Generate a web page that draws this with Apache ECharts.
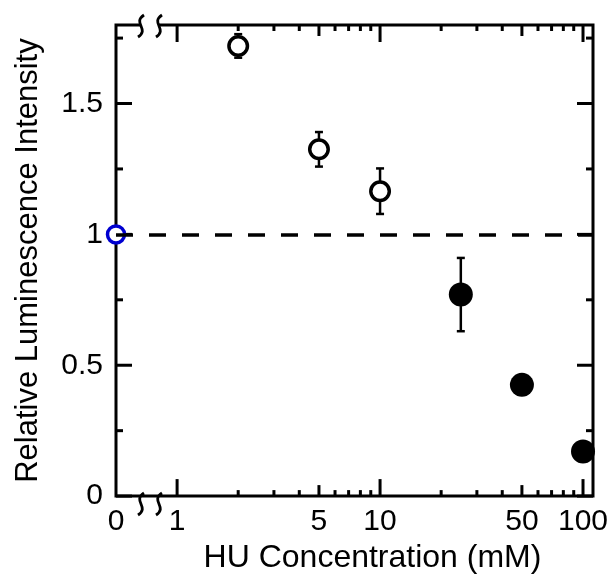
<!DOCTYPE html>
<html>
<head>
<meta charset="utf-8">
<script src="https://cdn.jsdelivr.net/npm/echarts@6/dist/echarts.min.js"></script>
<style>
html,body{margin:0;padding:0;background:#fff}
#chart{width:614px;height:579px}
</style>
</head>
<body>
<div id="chart"></div>
<script>
// data
var zeroX = [0];
var zeroY = [1];
var openX = [2, 5, 10];
var openY = [1.72, 1.325, 1.165];
var openErr = [0.045, 0.066, 0.087];
var filledX = [25, 50, 100];
var filledY = [0.77, 0.425, 0.17];
var filledErr = [0.14, 0, 0];

// axis ticks / labels
var xLabels = [1, 5, 10, 50, 100];
var xMajor = [1, 10, 100];
var xMid = [5, 50];
var xMinor = [2, 3, 4, 6, 7, 8, 9, 20, 30, 40, 60, 70, 80, 90];
var yMajor = [0, 0.5, 1, 1.5];
var yMinor = [0.25, 0.75, 1.25, 1.75];

var FONT = 'Liberation Sans, Arial, sans-serif';
var G = {left: 116, top: 25, right: 21, bottom: 76};

function pts(xs, ys) {
    return xs.map(function (x, i) { return [x, ys[i]]; });
}
function errs(xs, ys, es) {
    var out = [];
    xs.forEach(function (x, i) {
        if (es[i] > 0) out.push([x, ys[i] - es[i], ys[i] + es[i]]);
    });
    return out;
}

var xTickData = [];
xMajor.forEach(function (v) { xTickData.push([v, 17]); });
xMid.forEach(function (v) { xTickData.push([v, 11]); });
xMinor.forEach(function (v) { xTickData.push([v, 6]); });
var yTickData = [];
yMajor.forEach(function (v) { yTickData.push([v, 16]); });
yMinor.forEach(function (v) { yTickData.push([v, 7]); });

var lineStyle = {stroke: '#000', lineWidth: 3};

function xTickItem(params, api) {
    var cs = params.coordSys;
    var x = api.coord([api.value(0), 1])[0];
    var len = api.value(1);
    var b = cs.y + cs.height;
    return {type: 'group', children: [
        {type: 'line', shape: {x1: x, y1: b, x2: x, y2: b - len}, style: lineStyle},
        {type: 'line', shape: {x1: x, y1: cs.y, x2: x, y2: cs.y + len}, style: lineStyle}
    ]};
}
function yTickItem(params, api) {
    var cs = params.coordSys;
    var y = api.coord([1, api.value(0)])[1];
    var len = api.value(1);
    var r = cs.x + cs.width;
    return {type: 'group', children: [
        {type: 'line', shape: {x1: cs.x, y1: y, x2: cs.x + len, y2: y}, style: lineStyle},
        {type: 'line', shape: {x1: r, y1: y, x2: r - len, y2: y}, style: lineStyle}
    ]};
}
function errItem(params, api) {
    var lo = api.coord([api.value(0), api.value(1)]);
    var hi = api.coord([api.value(0), api.value(2)]);
    var w = 4;
    var st = {stroke: '#000', lineWidth: 2.5};
    return {type: 'group', children: [
        {type: 'line', shape: {x1: lo[0], y1: lo[1], x2: hi[0], y2: hi[1]}, style: st},
        {type: 'line', shape: {x1: lo[0] - w, y1: lo[1], x2: lo[0] + w, y2: lo[1]}, style: st},
        {type: 'line', shape: {x1: hi[0] - w, y1: hi[1], x2: hi[0] + w, y2: hi[1]}, style: st}
    ]};
}

// axis break marks
function squiggle(x, y) {
    return {type: 'bezierCurve', z: 101,
        shape: {x1: x + 3, y1: y - 11, cpx1: x - 9, cpy1: y - 3, cpx2: x + 9, cpy2: y + 3, x2: x - 3, y2: y + 11},
        style: {stroke: '#000', lineWidth: 2.8, fill: null}};
}
var yTop = G.top, yBot = 579 - G.bottom;
var bx1 = G.left + 25, bx2 = G.left + 43;
var breaks = [
    {type: 'rect', z: 100, shape: {x: bx1, y: yTop - 4, width: bx2 - bx1, height: 8}, style: {fill: '#fff'}},
    {type: 'rect', z: 100, shape: {x: bx1, y: yBot - 4, width: bx2 - bx1, height: 8}, style: {fill: '#fff'}},
    squiggle(bx1, yTop + 1), squiggle(bx2, yTop + 1),
    squiggle(bx1, yBot + 1), squiggle(bx2, yBot + 1)
];

var chart = echarts.init(document.getElementById('chart'));
var option = {
    animation: false,
    backgroundColor: '#fff',
    grid: {left: G.left, top: G.top, right: G.right, bottom: G.bottom,
        show: true, borderColor: '#000', borderWidth: 3, backgroundColor: 'transparent'},
    xAxis: [
        {
            type: 'log', min: 0.5, max: 112, position: 'bottom',
            axisLine: {show: false}, axisTick: {show: false}, splitLine: {show: false},
            axisLabel: {customValues: xLabels, fontSize: 30, color: '#000', fontFamily: FONT, margin: 11},
            name: 'HU Concentration (mM)', nameLocation: 'middle', nameGap: 41,
            nameTextStyle: {fontSize: 32, color: '#000', fontFamily: FONT, padding: [0, 0, 0, 36]}
        },
        {
            type: 'value', min: 0, max: 1, position: 'bottom',
            axisLine: {show: false}, axisTick: {show: false}, splitLine: {show: false},
            axisLabel: {customValues: [0], fontSize: 30, color: '#000', fontFamily: FONT, margin: 11}
        }
    ],
    yAxis: [
        {
            type: 'value', min: 0, max: 1.8, interval: 0.5,
            axisLine: {show: false}, axisTick: {show: false}, splitLine: {show: false},
            axisLabel: {fontSize: 30, color: '#000', fontFamily: FONT, margin: 13, showMaxLabel: false},
            name: 'Relative Luminescence Intensity', nameLocation: 'middle', nameGap: 72,
            nameTextStyle: {fontSize: 31, color: '#000', fontFamily: FONT}
        }
    ],
    graphic: breaks,
    series: [
        {type: 'custom', name: 'xticks', xAxisIndex: 0, yAxisIndex: 0, renderItem: xTickItem,
            data: xTickData, silent: true, clip: false, z: 1},
        {type: 'custom', name: 'yticks', xAxisIndex: 0, yAxisIndex: 0, renderItem: yTickItem,
            data: yTickData, silent: true, clip: false, z: 1},
        {type: 'custom', name: 'err', xAxisIndex: 0, yAxisIndex: 0, renderItem: errItem,
            data: errs(openX, openY, openErr).concat(errs(filledX, filledY, filledErr)), silent: true, z: 2},
        {type: 'scatter', name: 'control', xAxisIndex: 1, yAxisIndex: 0, clip: false, z: 4,
            symbol: 'circle', symbolSize: 17,
            itemStyle: {color: '#fff', borderColor: '#0000d0', borderWidth: 3.5, opacity: 1},
            data: pts(zeroX, zeroY),
            markLine: {silent: true, symbol: 'none', label: {show: false},
                lineStyle: {color: '#000', width: 3.5, type: [17, 16]},
                data: [{yAxis: 1}]}
        },
        {type: 'scatter', name: 'low', xAxisIndex: 0, yAxisIndex: 0, clip: false, z: 3,
            symbol: 'circle', symbolSize: 18.5,
            itemStyle: {color: '#fff', borderColor: '#000', borderWidth: 3.5, opacity: 1},
            data: pts(openX, openY)},
        {type: 'scatter', name: 'high', xAxisIndex: 0, yAxisIndex: 0, clip: false, z: 3,
            symbol: 'circle', symbolSize: 24,
            itemStyle: {color: '#000', opacity: 1},
            data: pts(filledX, filledY)}
    ]
};
chart.setOption(option);
</script>
</body>
</html>
